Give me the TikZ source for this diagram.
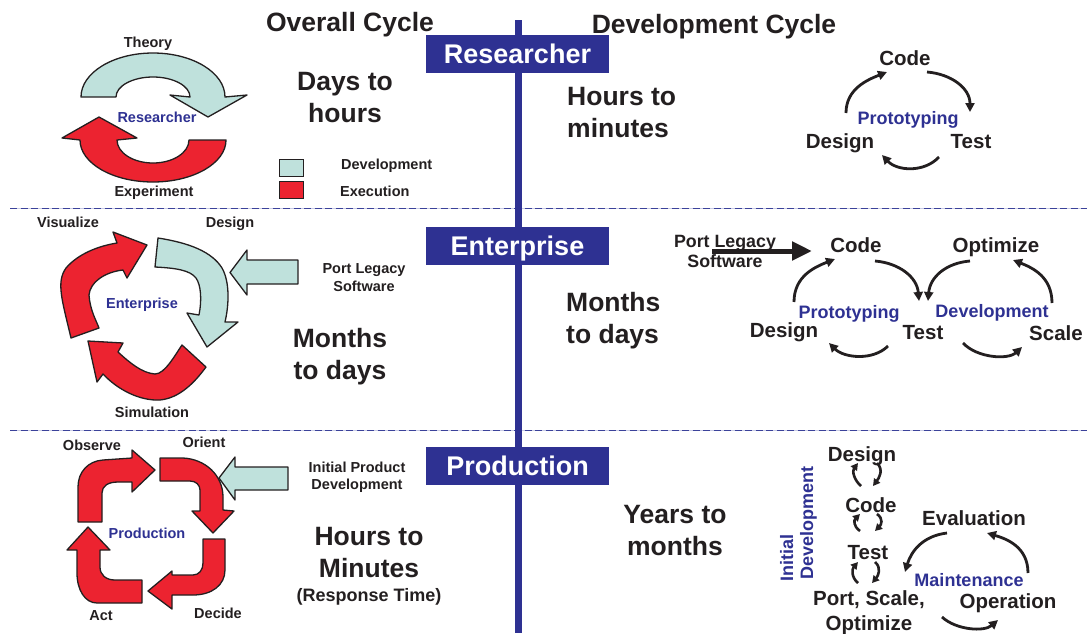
\documentclass[tikz,border=0pt]{standalone}
\usepackage{fontspec}
\setmainfont{Liberation Sans}
\usetikzlibrary{arrows.meta}
\definecolor{ink}{HTML}{231F20}
\definecolor{navy}{HTML}{2E3192}
\definecolor{tealfill}{HTML}{BFE1DC}
\definecolor{redfill}{HTML}{EC2330}
\definecolor{dashblue}{HTML}{3B429A}
\definecolor{dashlight}{HTML}{C9CCE6}
\begin{document}
\begin{tikzpicture}[x=1pt,y=-1pt,
  big/.style={font=\bfseries\fontsize{26.5}{30}\selectfont, text=ink, inner sep=0pt},
  small/.style={font=\bfseries\fontsize{14.5}{17}\selectfont, text=ink, inner sep=0pt},
  lab/.style={font=\bfseries\fontsize{20.5}{24}\selectfont, text=ink, inner sep=0pt},
  midlab/.style={font=\bfseries\fontsize{17.8}{21}\selectfont, text=ink, inner sep=0pt},
  resp/.style={font=\bfseries\fontsize{18}{21}\selectfont, text=ink, inner sep=0pt},
  bluelab/.style={font=\bfseries\fontsize{18}{21}\selectfont, text=navy, inner sep=0pt},
  bluesmall/.style={font=\bfseries\fontsize{14.5}{17}\selectfont, text=navy, inner sep=0pt},
  boxtitle/.style={fill=navy, text=white, font=\bfseries\fontsize{27}{30}\selectfont,
    minimum width=183pt, minimum height=38pt, inner sep=0pt, text height=20pt, text depth=2pt},
  legbox/.style={draw=ink, line width=0.8pt, minimum width=24pt, minimum height=17pt, inner sep=0pt},
  blockred/.style={fill=redfill, draw=ink, line width=1.3pt, line join=round},
  blockteal/.style={fill=tealfill, draw=ink, line width=1.3pt, line join=round},
  cyc/.style={draw=ink, line width=2.8pt, -{Triangle[length=9pt,width=9pt]}},
  mini/.style={draw=ink, line width=2.6pt, -{Triangle[length=7pt,width=7.5pt]}},
  bigarrow/.style={draw=ink, line width=5pt, -{Triangle[length=20pt,width=18pt]}},
  sep/.style={draw=dashblue, line width=1.8pt, dash pattern=on 7pt off 3.5pt},
  sepback/.style={draw=dashlight, line width=1.4pt}
]
\useasboundingbox (0,0) rectangle (1087,633);

% separators
\draw[sepback] (10,208.5) -- (1087,208.5);
\draw[sep] (10,208.5) -- (1087,208.5);
\draw[sepback] (10,430.5) -- (1087,430.5);
\draw[sep] (10,430.5) -- (1087,430.5);

% central bar and titles
\fill[navy] (515,20) rectangle (522,633);
\node[boxtitle] (researcher) at (517.5,54) {Researcher};
\node[boxtitle] (enterprise) at (517.5,246) {Enterprise};
\node[boxtitle] (production) at (517.5,466) {Production};

\node[big, anchor=base] (overall) at (350,31) {Overall Cycle};
\node[big, anchor=base] (devcycle) at (714,33) {Development Cycle};

% ---------- Researcher row, left ----------
\draw[blockteal] (81,97) arc[start angle=180, end angle=360, x radius=72, y radius=44]
  -- (247,95) -- (208,117) -- (170,95) -- (190,97)
  arc[start angle=0, end angle=-180, x radius=37, y radius=20] -- cycle;
\draw[blockred] (226,140) arc[start angle=0, end angle=180, x radius=73, y radius=42]
  -- (62,138) -- (99,117) -- (137,138) -- (117,140)
  arc[start angle=180, end angle=0, x radius=36, y radius=23] -- cycle;
\node[small, anchor=base] (theory) at (148,47) {Theory};
\node[bluesmall, anchor=base] (reslab) at (157,122) {Researcher};
\node[small, anchor=base] (experiment) at (154,196) {Experiment};
\node[big, anchor=base] (days1) at (345,90) {Days to};
\node[big, anchor=base] (days2) at (345,122) {hours};
\node[legbox, fill=tealfill] (legdev) at (291,167.5) {};
\node[legbox, fill=redfill] (legexe) at (291,189.5) {};
\node[small, anchor=base west] (legdevtxt) at (341,169) {Development};
\node[small, anchor=base west] (legexetxt) at (340,196) {Execution};

% ---------- Researcher row, right ----------
\node[big, anchor=base west] (hrs1) at (567,105) {Hours to};
\node[big, anchor=base west] (hrs2) at (567,137) {minutes};
\node[lab, anchor=base] (code1) at (905,65) {Code};
\node[lab, anchor=base] (design1) at (840,148) {Design};
\node[lab, anchor=base] (test1) at (971,148) {Test};
\node[bluelab, anchor=base] (proto1) at (908,124) {Prototyping};
\draw[cyc] ([shift={(6,-35)}]design1.base) .. controls +(0,-24) and +(-20,8) .. ([shift={(-18,7)}]code1.base);
\draw[cyc] ([shift={(22,7)}]code1.base) .. controls +(24,2) and +(0,-24) .. ([shift={(-1,-36)}]test1.base);
\draw[cyc] ([shift={(-32,9)}]test1.base) .. controls +(-15,16) and +(15,16) .. ([shift={(42,7)}]design1.base);

% ---------- Enterprise row, left ----------
\draw[blockred] (71,338) .. controls (62,300) and (56,282) .. (66,268)
  .. controls (78,254) and (98,246) .. (117,243)
  -- (113,232) -- (147,245) -- (127,278) -- (123,270)
  .. controls (105,272) and (90,282) .. (89,295)
  .. controls (90,310) and (96,320) .. (99,328) -- cycle;
\draw[blockteal] (158,238) .. controls (190,243) and (212,252) .. (222,268)
  .. controls (230,282) and (229,305) .. (225,322)
  -- (238,322) -- (207,347) -- (187,313) -- (199,315)
  .. controls (202,300) and (201,285) .. (196,278)
  .. controls (190,270) and (175,268) .. (155,267) -- cycle;
\draw[blockred] (182,345) -- (206,367)
  .. controls (195,382) and (180,398) .. (160,400)
  .. controls (140,401) and (118,390) .. (103,374)
  -- (97,382) -- (88,341) -- (123,343) -- (118,352)
  .. controls (130,363) and (142,373) .. (155,374)
  .. controls (165,374) and (175,355) .. (182,345) -- cycle;
\draw[blockteal] (298,260) -- (247,260) -- (247,250) -- (230,272.5) -- (247,295) -- (247,284) -- (298,284) -- cycle;
\node[small, anchor=base] (visualize) at (68,227) {Visualize};
\node[small, anchor=base] (designL) at (230,227) {Design};
\node[bluesmall, anchor=base] (entlab) at (142,308) {Enterprise};
\node[small, anchor=base] (simulation) at (152,417) {Simulation};
\node[small, anchor=base] (portL1) at (364,273) {Port Legacy};
\node[small, anchor=base] (portL2) at (364,291) {Software};
\node[big, anchor=base] (months1) at (340,347) {Months};
\node[big, anchor=base] (months2) at (340,379) {to days};

% ---------- Enterprise row, right ----------
\node[big, anchor=base west] (monthsR1) at (566,311) {Months};
\node[big, anchor=base west] (monthsR2) at (566,343) {to days};
\node[midlab, anchor=base] (pl1) at (725,247) {Port Legacy};
\node[midlab, anchor=base] (pl2) at (725,267) {Software};
\node[lab, anchor=base] (code2) at (856,252) {Code};
\node[lab, anchor=base] (optimize) at (996,252) {Optimize};
\node[lab, anchor=base] (design2) at (784,337) {Design};
\node[lab, anchor=base] (test2) at (923,339) {Test};
\node[lab, anchor=base] (scale) at (1056,340) {Scale};
\node[bluelab, anchor=base] (proto2) at (849,318) {Prototyping};
\node[bluelab, anchor=base] (devel) at (992,317) {Development};
\draw[bigarrow] ([shift={(-13,4)}]pl1.base) -- ([shift={(-44,-1)}]code2.base);
\draw[cyc] ([shift={(10,-35)}]design2.base) .. controls +(0,-26) and +(-20,8) .. ([shift={(-21,7)}]code2.base);
\draw[cyc] ([shift={(19,9)}]code2.base) .. controls +(24,2) and +(-2,-24) .. ([shift={(-4,-38)}]test2.base);
\draw[cyc] ([shift={(-26,9)}]optimize.base) .. controls +(-24,2) and +(2,-24) .. ([shift={(5,-38)}]test2.base);
\draw[cyc] ([shift={(-4,-37)}]scale.base) .. controls +(0,-26) and +(20,8) .. ([shift={(17,8)}]optimize.base);
\draw[cyc] ([shift={(-35,7)}]test2.base) .. controls +(-15,15) and +(15,15) .. ([shift={(45,6)}]design2.base);
\draw[cyc] ([shift={(40,4)}]test2.base) .. controls +(14,15) and +(-14,13) .. ([shift={(-34,7)}]scale.base);

% ---------- Production row, left ----------
\draw[blockred] (78,522) -- (102,522) -- (102,493)
  .. controls (102,486) and (108,482) .. (118,482)
  -- (132,482) -- (132,492) -- (155,470) -- (132,450) -- (132,458) -- (103,460)
  .. controls (88,461) and (78,472) .. (78,487) -- cycle;
\draw[blockred] (160,458) -- (183,458)
  .. controls (205,459) and (223,475) .. (223,497)
  -- (223,510) -- (234,511) -- (213,533) -- (192,511) -- (200,511) -- (200,490)
  .. controls (200,485) and (196,481) .. (190,481) -- (160,481) -- cycle;
\draw[blockred] (203,539) -- (225,539) -- (225,570)
  .. controls (225,585) and (212,595) .. (193,595)
  -- (172,595) -- (172,609) -- (148,591) -- (172,571) -- (172,575) -- (193,575)
  .. controls (199,575) and (203,570) .. (203,563) -- cycle;
\draw[blockred] (142,603) -- (142,580) -- (115,580)
  .. controls (106,580) and (100,575) .. (100,567)
  -- (100,550) -- (110,550) -- (88,527) -- (67,550) -- (77,550) -- (77,573)
  .. controls (77,590) and (85,603) .. (97,603) -- cycle;
\draw[blockteal] (288,467) -- (235,467) -- (235,457) -- (219,478) -- (235,500) -- (235,490) -- (288,490) -- cycle;
\node[small, anchor=base] (observe) at (92,450) {Observe};
\node[small, anchor=base] (orient) at (204,447) {Orient};
\node[bluesmall, anchor=base] (prodlab) at (147,538) {Production};
\node[small, anchor=base] (act) at (101,620) {Act};
\node[small, anchor=base] (decide) at (218,618) {Decide};
\node[small, anchor=base] (ipd1) at (357,472) {Initial Product};
\node[small, anchor=base] (ipd2) at (357,489) {Development};
\node[big, anchor=base] (hm1) at (369,545) {Hours to};
\node[big, anchor=base] (hm2) at (369,577) {Minutes};
\node[resp, anchor=base] (hm3) at (369,601) {(Response Time)};

% ---------- Production row, right ----------
\node[big, anchor=base] (yrs1) at (675,523) {Years to};
\node[big, anchor=base] (yrs2) at (675,555) {months};
\node[lab, anchor=base] (design3) at (862,461) {Design};
\node[lab, anchor=base] (code3) at (871,512) {Code};
\node[lab, anchor=base] (test3) at (868,559) {Test};
\node[lab, anchor=base] (port3) at (869,605) {Port, Scale,};
\node[lab, anchor=base] (opt3) at (869,630) {Optimize};
\node[lab, anchor=base] (evaluation) at (974,525) {Evaluation};
\node[lab, anchor=base] (operation) at (1008,608) {Operation};
\node[bluelab, anchor=base] (maint) at (969,586) {Maintenance};
\node[bluelab, rotate=90, anchor=base west] (initial) at (793,582) {Initial};
\node[bluelab, rotate=90, anchor=base west] (initdev) at (813,580) {Development};
\draw[mini] ([shift={(-10,-26)}]code3.base) .. controls +(-7,-6) and +(-6,8) .. ([shift={(-4,2)}]design3.base);
\draw[mini] ([shift={(15,2)}]design3.base) .. controls +(7,7) and +(6,-8) .. ([shift={(2,-26)}]code3.base);
\draw[mini] ([shift={(-8,-28)}]test3.base) .. controls +(-7,-5) and +(-6,6) .. ([shift={(-11,2)}]code3.base);
\draw[mini] ([shift={(6,2)}]code3.base) .. controls +(7,5) and +(6,-6) .. ([shift={(7,-28)}]test3.base);
\draw[mini] ([shift={(-11,-22)}]port3.base) .. controls +(-7,-6) and +(-6,7) .. ([shift={(-10,3)}]test3.base);
\draw[mini] ([shift={(7,3)}]test3.base) .. controls +(7,6) and +(6,-7) .. ([shift={(3,-22)}]port3.base);
\draw[cyc] ([shift={(-27,8)}]evaluation.base) .. controls +(-25,3) and +(6,-20) .. ([shift={(-64,-14)}]maint.base);
\draw[cyc] ([shift={(20,-35)}]operation.base) .. controls +(0,-26) and +(20,6) .. ([shift={(13,8)}]evaluation.base);
\draw[cyc] ([shift={(73,12)}]port3.base) .. controls +(14,13) and +(-14,12) .. ([shift={(-10,12)}]operation.base);
\end{tikzpicture}
\end{document}
